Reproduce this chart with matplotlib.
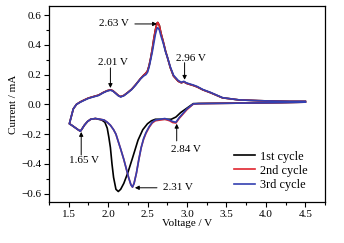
import matplotlib
matplotlib.use("Agg")
import matplotlib.pyplot as plt
from matplotlib.ticker import MultipleLocator

plt.rcParams['font.family'] = ['Liberation Serif', 'DejaVu Serif']
plt.rcParams['font.size'] = 8

# ---- data ----
# cathodic scan (4.5 V -> 1.5 V)
v_cath = [4.5, 4.2, 3.9, 3.6, 3.3, 3.15, 3.08, 3.0, 2.95, 2.9, 2.86, 2.82, 2.78, 2.72, 2.66,
          2.6, 2.56, 2.52, 2.48, 2.45, 2.42, 2.39, 2.36, 2.33, 2.31, 2.29, 2.26, 2.23, 2.2,
          2.16, 2.13, 2.1, 2.07, 2.03, 1.99, 1.95, 1.9, 1.84, 1.78, 1.74, 1.7, 1.67, 1.65,
          1.62, 1.58, 1.54, 1.51]
i_cath_3 = [0.015, 0.012, 0.01, 0.008, 0.006, 0.005, 0.003, -0.03, -0.06, -0.09, -0.12, -0.115,
            -0.105, -0.095, -0.1, -0.105, -0.12, -0.15, -0.19, -0.23, -0.29, -0.37, -0.46, -0.53,
            -0.555, -0.54, -0.49, -0.43, -0.37, -0.3, -0.25, -0.2, -0.17, -0.14, -0.12, -0.105,
            -0.1, -0.095, -0.1, -0.115, -0.14, -0.165, -0.18, -0.17, -0.155, -0.14, -0.13]
i_cath_2 = [0.015, 0.012, 0.01, 0.008, 0.006, 0.005, 0.002, -0.035, -0.065, -0.095, -0.125,
            -0.122, -0.11, -0.1, -0.105, -0.11, -0.125, -0.155, -0.195, -0.235, -0.29, -0.37,
            -0.46, -0.53, -0.555, -0.54, -0.49, -0.43, -0.37, -0.3, -0.25, -0.2, -0.17, -0.14,
            -0.12, -0.105, -0.1, -0.095, -0.1, -0.115, -0.14, -0.165, -0.18, -0.17, -0.155,
            -0.14, -0.13]

v_cath_1 = [4.5, 4.2, 3.9, 3.6, 3.3, 3.15, 3.08, 3.0, 2.92, 2.86, 2.8, 2.75, 2.7, 2.65, 2.6,
            2.55, 2.5, 2.44, 2.38, 2.31, 2.25, 2.2, 2.16, 2.13, 2.1, 2.07, 2.05, 2.03, 2.01,
            1.99, 1.96, 1.92, 1.88, 1.84, 1.78, 1.74, 1.7, 1.67, 1.65, 1.62, 1.58, 1.54, 1.51]
i_cath_1 = [0.015, 0.012, 0.01, 0.008, 0.007, 0.006, 0.005, -0.025, -0.055, -0.085, -0.1,
            -0.1, -0.1, -0.1, -0.1, -0.11, -0.13, -0.17, -0.24, -0.36, -0.46, -0.53, -0.57,
            -0.585, -0.57, -0.49, -0.4, -0.29, -0.22, -0.16, -0.12, -0.105, -0.1, -0.095,
            -0.1, -0.115, -0.14, -0.165, -0.18, -0.17, -0.155, -0.14, -0.13]

# anodic scan (1.5 V -> 4.5 V)
v_anod = [1.51, 1.53, 1.56, 1.6, 1.65, 1.7, 1.75, 1.8, 1.88, 1.94, 1.99, 2.03, 2.06, 2.1,
          2.13, 2.16, 2.2, 2.25, 2.3, 2.35, 2.41, 2.45, 2.48, 2.5, 2.52, 2.54, 2.56, 2.58,
          2.6, 2.62, 2.63, 2.65, 2.67, 2.7, 2.73, 2.75, 2.79, 2.83, 2.89, 2.93, 2.96, 2.99,
          3.03, 3.08, 3.13, 3.2, 3.3, 3.45, 3.66, 3.9, 4.1, 4.3, 4.5]
i_anod_3 = [-0.13, -0.09, -0.03, 0.0, 0.015, 0.028, 0.04, 0.048, 0.06, 0.078, 0.09, 0.095,
            0.09, 0.072, 0.058, 0.05, 0.058, 0.078, 0.1, 0.13, 0.17, 0.19, 0.2, 0.215, 0.25,
            0.3, 0.35, 0.41, 0.47, 0.51, 0.515, 0.5, 0.46, 0.41, 0.35, 0.32, 0.25, 0.195, 0.16,
            0.148, 0.155, 0.145, 0.138, 0.13, 0.12, 0.1, 0.08, 0.045, 0.03, 0.025, 0.022, 0.02,
            0.02]
i_anod_2 = [-0.13, -0.09, -0.03, 0.0, 0.017, 0.03, 0.042, 0.05, 0.062, 0.08, 0.092, 0.097,
            0.092, 0.074, 0.06, 0.052, 0.06, 0.08, 0.102, 0.132, 0.172, 0.195, 0.21, 0.225,
            0.26, 0.31, 0.37, 0.44, 0.5, 0.545, 0.55, 0.53, 0.48, 0.42, 0.355, 0.32, 0.245,
            0.19, 0.155, 0.145, 0.152, 0.142, 0.135, 0.127, 0.117, 0.098, 0.078, 0.044, 0.03,
            0.025, 0.022, 0.02, 0.02]
i_anod_1 = i_anod_2

peak_labels = ["2.63 V", "2.01 V", "2.96 V", "1.65 V", "2.84 V", "2.31 V"]
cycle_labels = ["1st cycle", "2nd cycle", "3rd cycle"]

# ---- figure ----
fig = plt.figure(figsize=(3.44, 2.43), dpi=100)
ax = fig.add_axes([0.142, 0.169, 0.803, 0.806])

lw = 1.2
ax.plot(v_cath_1 + v_anod, i_cath_1 + i_anod_1, color="black", lw=lw, label=cycle_labels[0])
ax.plot(v_cath + v_anod, i_cath_2 + i_anod_2, color="#e0252f", lw=lw, label=cycle_labels[1])
ax.plot(v_cath + v_anod, i_cath_3 + i_anod_3, color="#3340b0", lw=lw, label=cycle_labels[2])

ax.set_xlim(1.25, 4.75)
ax.set_ylim(-0.655, 0.66)
ax.xaxis.set_major_locator(MultipleLocator(0.5))
ax.xaxis.set_minor_locator(MultipleLocator(0.25))
ax.yaxis.set_major_locator(MultipleLocator(0.2))
ax.yaxis.set_minor_locator(MultipleLocator(0.1))
ax.tick_params(which="major", length=3.5, width=0.8, pad=2)
ax.tick_params(which="minor", length=2, width=0.8)
ax.set_xticks([1.5, 2.0, 2.5, 3.0, 3.5, 4.0, 4.5])
ax.set_yticks([-0.6, -0.4, -0.2, 0.0, 0.2, 0.4, 0.6])
for s in ax.spines.values():
    s.set_linewidth(0.9)

ax.set_xlabel("Voltage / V", labelpad=0)
ax.set_ylabel("Current / mA", labelpad=2)

# ---- annotations ----
arr = dict(arrowstyle="-|>", color="black", lw=0.7, mutation_scale=6, shrinkA=0, shrinkB=0)
ax.annotate("", xy=(2.62, 0.54), xytext=(2.34, 0.54), arrowprops=arr)
ax.text(2.07, 0.54, peak_labels[0], ha="center", va="center")

ax.annotate("", xy=(2.03, 0.11), xytext=(2.03, 0.245), arrowprops=arr)
ax.text(2.06, 0.28, peak_labels[1], ha="center", va="center")

ax.annotate("", xy=(2.97, 0.165), xytext=(2.97, 0.28), arrowprops=arr)
ax.text(3.05, 0.31, peak_labels[2], ha="center", va="center")

ax.annotate("", xy=(1.66, -0.185), xytext=(1.66, -0.34), arrowprops=arr)
ax.text(1.70, -0.38, peak_labels[3], ha="center", va="center")

ax.annotate("", xy=(2.87, -0.13), xytext=(2.87, -0.245), arrowprops=arr)
ax.text(2.99, -0.30, peak_labels[4], ha="center", va="center")

ax.annotate("", xy=(2.34, -0.56), xytext=(2.62, -0.56), arrowprops=arr)
ax.text(2.89, -0.56, peak_labels[5], ha="center", va="center")

ax.legend(loc="lower right", bbox_to_anchor=(0.975, 0.0), frameon=False,
          handlelength=1.7, handletextpad=0.35, labelspacing=0.18,
          borderaxespad=0.5, fontsize=8.8)

fig.savefig("out.png", dpi=100)
